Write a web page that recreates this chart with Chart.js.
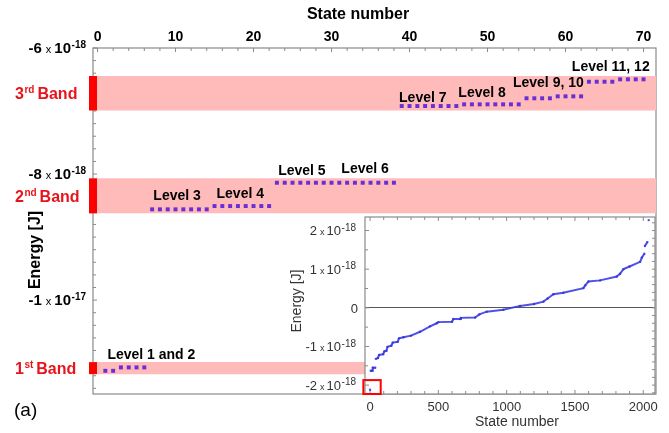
<!DOCTYPE html>
<html><head><meta charset="utf-8">
<script src="https://cdn.jsdelivr.net/npm/chart.js@4.4.1/dist/chart.umd.min.js"></script>
<style>
html,body{margin:0;padding:0;background:#fff;}
#wrap{position:relative;width:669px;height:433px;overflow:hidden;}
#main{position:absolute;left:0;top:0;}
#inset{position:absolute;left:280px;top:213px;}
</style></head><body>
<div id="wrap">
<canvas id="main" width="669" height="433"></canvas>
<canvas id="inset" width="389" height="220"></canvas>
</div>
<script>
// ---------------- main chart data ----------------
const xMin = -0.58, xMax = 71.6;
const yMin = -1.149e-17, yMax = -6.0e-18;
const mainXTicks = [0, 10, 20, 30, 40, 50, 60, 70];
const mainYTicks = [-6e-18, -8e-18, -1e-17];
const mainYTickMantissa = ['-6', '-8', '-1'];
const mainYTickExponent = ['-18', '-18', '-17'];

const bandNumber = ['1', '2', '3'];
const bandSuffix = ['st', 'nd', 'rd'];
const bandLow  = [-11.175e-18, -8.624e-18, -6.992e-18];
const bandHigh = [-10.984e-18, -8.068e-18, -6.444e-18];

const stateNumber = [1,2,3,4,5,6,7,8,9,10,11,12,13,14,15,16,17,18,19,20,
  21,22,23,24,25,26,27,28,29,30,31,32,33,34,35,36,37,38,39,40,
  41,42,43,44,45,46,47,48,49,50,51,52,53,54,55,56,57,58,59,60,
  61,62,63,64,65,66,67,68,69,70];
const stateEnergy = [
  -11.122e-18, -11.122e-18,
  -11.068e-18, -11.068e-18, -11.068e-18, -11.068e-18,
  -8.56e-18, -8.56e-18, -8.56e-18, -8.56e-18, -8.56e-18, -8.56e-18, -8.56e-18, -8.56e-18,
  -8.508e-18, -8.508e-18, -8.508e-18, -8.508e-18, -8.508e-18, -8.508e-18, -8.508e-18, -8.508e-18,
  -8.138e-18, -8.138e-18, -8.138e-18, -8.138e-18, -8.138e-18, -8.138e-18, -8.138e-18, -8.138e-18,
  -8.138e-18, -8.138e-18, -8.138e-18, -8.138e-18, -8.138e-18, -8.138e-18, -8.138e-18, -8.138e-18,
  -6.921e-18, -6.921e-18, -6.921e-18, -6.921e-18, -6.921e-18, -6.921e-18, -6.921e-18, -6.921e-18,
  -6.894e-18, -6.894e-18, -6.894e-18, -6.894e-18, -6.894e-18, -6.894e-18, -6.894e-18, -6.894e-18,
  -6.798e-18, -6.798e-18, -6.798e-18, -6.798e-18,
  -6.767e-18, -6.767e-18, -6.767e-18, -6.767e-18,
  -6.535e-18, -6.535e-18, -6.535e-18, -6.535e-18,
  -6.497e-18, -6.497e-18, -6.497e-18, -6.497e-18];

const levelNames = ['Level 1 and 2', 'Level 3', 'Level 4', 'Level 5', 'Level 6',
  'Level 7', 'Level 8', 'Level 9, 10', 'Level 11, 12'];
const levelLabelState  = [6.9, 10.2, 18.3, 26.2, 34.3, 41.7, 49.3, 57.8, 65.8];
const levelLabelEnergy = [-10.857e-18, -8.333e-18, -8.302e-18, -7.929e-18, -7.905e-18,
  -6.778e-18, -6.698e-18, -6.54e-18, -6.286e-18];

// ---------------- inset data ----------------
const insetXMin = -37, insetXMax = 2086;
const insetYMin = -2.23e-18, insetYMax = 2.35e-18;
const insetXTicks = [0, 500, 1000, 1500, 2000];
const insetYTicks = [2e-18, 1e-18, 0, -1e-18, -2e-18];
const insetYTickMantissa = ['2', '1', '0', '-1', '-2'];
const insetYTickExponent = ['-18', '-18', '', '-18', '-18'];
const insetStates = [0, 5, 15, 20, 38, 42, 58, 66, 96, 104, 120, 128, 156, 166, 202,
  212, 244, 300, 366, 439, 488, 500, 600, 610, 659, 665, 769, 800, 854, 976,
  1098, 1200, 1269, 1300, 1342, 1415, 1562, 1575, 1599, 1684, 1806, 1830, 1855, 1900, 1977,
  1990, 2008, 2012, 2030, 2040];
const insetEnergy = [-2.12e-18, -1.63e-18, -1.63e-18, -1.55e-18, -1.55e-18, -1.32e-18, -1.30e-18,
  -1.22e-18, -1.20e-18, -1.13e-18, -1.11e-18, -1.01e-18, -0.98e-18, -0.90e-18, -0.88e-18,
  -0.79e-18, -0.76e-18, -0.72e-18, -0.62e-18, -0.48e-18, -0.40e-18, -0.37e-18, -0.36e-18,
  -0.29e-18, -0.29e-18, -0.26e-18, -0.25e-18, -0.17e-18, -0.10e-18, -0.05e-18,
  0.05e-18, 0.10e-18, 0.16e-18, 0.24e-18, 0.35e-18, 0.39e-18, 0.51e-18, 0.58e-18, 0.68e-18,
  0.71e-18, 0.81e-18, 0.88e-18, 1.0e-18, 1.07e-18, 1.19e-18, 1.30e-18, 1.40e-18, 1.60e-18,
  1.70e-18, 2.27e-18];
const highlightBox = { xMin: -49, xMax: 78, yMin: -2.23e-18, yMax: -1.87e-18 };

// ---------------- styling ----------------
const F = "'Liberation Sans', Arial, sans-serif";
const AXIS = '#8a8a8a';
const RED_TEXT = '#e8141c';

function drawParts(ctx, parts, x, baseline, align, color) {
  const widths = parts.map(p => { ctx.font = p.f; return ctx.measureText(p.t).width; });
  let total = 0;
  parts.forEach((p, i) => { total += widths[i] + (p.g || 0); });
  let cx = align === 'right' ? x - total : (align === 'center' ? x - total / 2 : x);
  ctx.fillStyle = color; ctx.textAlign = 'left'; ctx.textBaseline = 'alphabetic';
  parts.forEach((p, i) => {
    ctx.font = p.f;
    ctx.fillText(p.t, cx, baseline + (p.dy || 0));
    cx += widths[i] + (p.g || 0);
  });
}
function tick(ctx, x1, y1, x2, y2) { ctx.beginPath(); ctx.moveTo(x1, y1); ctx.lineTo(x2, y2); ctx.stroke(); }

const mainDecor = {
  id: 'mainDecor',
  beforeDatasetsDraw(chart) {
    const { ctx, chartArea: a, scales: { x, y } } = chart;
    ctx.save();
    ctx.strokeStyle = AXIS; ctx.lineWidth = 1.2;
    ctx.strokeRect(a.left, a.top, a.right - a.left, a.bottom - a.top);
    ctx.lineWidth = 1;
    for (let v = 0; v <= 70; v += 2) {
      const px = x.getPixelForValue(v);
      tick(ctx, px, a.top, px, a.top + (v % 10 === 0 ? 4 : 3));
    }
    for (let k = 0; k < 40; k++) {
      const v = yMax - k * 0.2e-18;
      if (v < yMin) break;
      const py = y.getPixelForValue(v);
      tick(ctx, a.left, py, a.left + (k % 10 === 0 ? 4 : 3), py);
    }
    ctx.restore();
  },
  afterDraw(chart) {
    const { ctx, scales: { x, y } } = chart;
    ctx.save();
    mainYTicks.forEach((v, i) => {
      const py = y.getPixelForValue(v);
      drawParts(ctx, [
        { t: mainYTickMantissa[i], f: `bold 15px ${F}`, g: 4 },
        { t: 'x', f: `11px ${F}`, g: 3 },
        { t: '10', f: `bold 15px ${F}`, g: 0.5 },
        { t: mainYTickExponent[i], f: `bold 10px ${F}`, dy: -5 }
      ], 86, py + 5.3, 'right', '#000');
    });
    bandLow.forEach((lo, i) => {
      const py = (y.getPixelForValue(lo) + y.getPixelForValue(bandHigh[i])) / 2;
      drawParts(ctx, [
        { t: bandNumber[i], f: `bold 16px ${F}`, g: 0.5 },
        { t: bandSuffix[i], f: `bold 10px ${F}`, dy: -6, g: 3 },
        { t: 'Band', f: `bold 16px ${F}` }
      ], 15, py + 5.8, 'left', RED_TEXT);
    });
    ctx.font = `bold 14px ${F}`; ctx.fillStyle = '#000';
    ctx.textAlign = 'center'; ctx.textBaseline = 'alphabetic';
    levelNames.forEach((n, i) => {
      ctx.fillText(n, x.getPixelForValue(levelLabelState[i]), y.getPixelForValue(levelLabelEnergy[i]) + 5);
    });
    ctx.font = `bold 16px ${F}`; ctx.textAlign = 'center'; ctx.textBaseline = 'alphabetic';
    ctx.fillText('State number', 358, 18.5);
    ctx.save();
    ctx.translate(36, 250); ctx.rotate(-Math.PI / 2);
    ctx.textBaseline = 'middle';
    ctx.fillText('Energy [J]', 0, 0);
    ctx.restore();
    ctx.font = `19px ${F}`; ctx.textAlign = 'left'; ctx.textBaseline = 'middle';
    ctx.fillText('(a)', 14, 411);
    ctx.restore();
  }
};

const mainDatasets = [];
mainDatasets.push({
  type: 'scatter', label: 'states',
  data: stateNumber.map((s, i) => ({ x: s, y: stateEnergy[i] })),
  pointStyle: 'rect', pointRadius: 2.8, pointBorderWidth: 0,
  backgroundColor: '#6a2ed6', borderColor: '#6a2ed6', showLine: false, order: 0
});
bandLow.forEach((lo, i) => mainDatasets.push({
  type: 'line', label: 'marker' + i,
  data: [{ x: xMin, y: lo }, { x: xMin, y: bandHigh[i] }],
  borderColor: '#ff0000', borderWidth: 8, borderCapStyle: 'butt', pointRadius: 0, clip: false, order: 1
}));
bandLow.forEach((lo, i) => mainDatasets.push({
  type: 'line', label: 'band' + i,
  data: [{ x: xMin, y: bandHigh[i] }, { x: xMax, y: bandHigh[i] }],
  borderColor: 'rgba(0,0,0,0)', borderWidth: 0, pointRadius: 0,
  fill: { value: lo }, backgroundColor: '#ffbaba', order: 2
}));

new Chart(document.getElementById('main'), {
  type: 'line',
  data: { datasets: mainDatasets },
  options: {
    responsive: false, animation: false, events: [],
    layout: { padding: { left: 0, right: 13, top: 0, bottom: 39 } },
    plugins: { legend: { display: false }, tooltip: { enabled: false } },
    scales: {
      x: {
        type: 'linear', position: 'top', min: xMin, max: xMax,
        afterBuildTicks: s => { s.ticks = mainXTicks.map(v => ({ value: v })); },
        afterFit: s => { s.height = 48; },
        grid: { display: false, drawTicks: false }, border: { display: false },
        ticks: { font: { family: F, size: 14, weight: 'bold' }, color: '#000', padding: 2, maxRotation: 0, autoSkip: false,
          callback: v => String(v) }
      },
      y: {
        type: 'linear', min: yMin, max: yMax,
        afterBuildTicks: s => { s.ticks = mainYTicks.map(v => ({ value: v })); },
        afterFit: s => { s.width = 93; },
        grid: { display: false }, border: { display: false },
        ticks: { display: false }
      }
    }
  },
  plugins: [mainDecor]
});

// ---------------- inset ----------------
const insetDecor = {
  id: 'insetDecor',
  beforeDraw(chart) {
    const { ctx, chartArea: a } = chart;
    ctx.save(); ctx.fillStyle = '#fff';
    ctx.fillRect(a.left, a.top, a.right - a.left, a.bottom - a.top);
    ctx.restore();
  },
  beforeDatasetsDraw(chart) {
    const { ctx, chartArea: a, scales: { x, y } } = chart;
    ctx.save();
    ctx.strokeStyle = AXIS; ctx.lineWidth = 1.2;
    ctx.strokeRect(a.left, a.top, a.right - a.left, a.bottom - a.top);
    ctx.lineWidth = 1;
    for (let v = 0; v <= insetXMax; v += 100) {
      const px = x.getPixelForValue(v);
      const len = v % 500 === 0 ? 4 : 3;
      tick(ctx, px, a.bottom, px, a.bottom - len);
      tick(ctx, px, a.top, px, a.top + len);
    }
    for (let k = -12; k <= 12; k++) {
      const v = k * 0.2e-18;
      if (v < insetYMin || v > insetYMax) continue;
      const py = y.getPixelForValue(v);
      tick(ctx, a.right, py, a.right - 3, py);
    }
    for (let k = -5; k <= 5; k++) {
      const v = k * 0.5e-18;
      if (v < insetYMin || v > insetYMax) continue;
      const py = y.getPixelForValue(v);
      tick(ctx, a.left, py, a.left + (k % 2 === 0 ? 4 : 3), py);
    }
    ctx.restore();
  },
  afterDraw(chart) {
    const { ctx, scales: { x, y } } = chart;
    ctx.save();
    insetYTicks.forEach((v, i) => {
      const py = y.getPixelForValue(v);
      if (insetYTickExponent[i] === '') {
        drawParts(ctx, [{ t: insetYTickMantissa[i], f: `13px ${F}` }], 78, py + 4.7, 'right', '#333');
      } else {
        drawParts(ctx, [
          { t: insetYTickMantissa[i], f: `13px ${F}`, g: 3 },
          { t: 'x', f: `9px ${F}`, g: 2 },
          { t: '10', f: `13px ${F}`, g: 0.5 },
          { t: insetYTickExponent[i], f: `10px ${F}`, dy: -4.5 }
        ], 76, py + 4.7, 'right', '#333');
      }
    });
    ctx.fillStyle = '#333'; ctx.font = `14px ${F}`;
    ctx.textAlign = 'center'; ctx.textBaseline = 'middle';
    ctx.fillText('State number', 237, 209);
    ctx.save();
    ctx.translate(17, 88); ctx.rotate(-Math.PI / 2);
    ctx.fillText('Energy [J]', 0, 0);
    ctx.restore();
    const bx1 = x.getPixelForValue(highlightBox.xMin), bx2 = x.getPixelForValue(highlightBox.xMax);
    const by1 = y.getPixelForValue(highlightBox.yMax), by2 = y.getPixelForValue(highlightBox.yMin);
    ctx.strokeStyle = '#ff0000'; ctx.lineWidth = 2;
    ctx.strokeRect(bx1, by1, bx2 - bx1, by2 - by1);
    ctx.restore();
  }
};

new Chart(document.getElementById('inset'), {
  type: 'line',
  data: {
    datasets: [{
      label: 'all states',
      data: insetStates.map((s, i) => ({ x: s, y: insetEnergy[i] })),
      borderColor: 'rgba(50,50,225,0.85)', backgroundColor: 'rgba(50,50,225,0.85)',
      borderWidth: 2, pointRadius: 1.2, pointBorderWidth: 0, tension: 0,
      segment: { borderColor: c => (c.p1.parsed.y - c.p0.parsed.y) > 0.17e-18 ? 'rgba(0,0,0,0)' : undefined }
    }]
  },
  options: {
    responsive: false, animation: false, events: [],
    layout: { padding: { left: 0, right: 14, top: 0, bottom: 0 } },
    plugins: { legend: { display: false }, tooltip: { enabled: false } },
    scales: {
      x: {
        type: 'linear', min: insetXMin, max: insetXMax,
        afterBuildTicks: s => { s.ticks = insetXTicks.map(v => ({ value: v })); },
        afterFit: s => { s.height = 39; },
        grid: { display: false, drawTicks: false }, border: { display: false },
        ticks: { font: { family: F, size: 13 }, color: '#333', padding: 6, maxRotation: 0, autoSkip: false,
          callback: v => String(v) }
      },
      y: {
        type: 'linear', min: insetYMin, max: insetYMax,
        afterBuildTicks: s => { s.ticks = insetYTicks.map(v => ({ value: v })); },
        afterFit: s => { s.width = 85; },
        grid: { drawTicks: false, lineWidth: 1, color: c => (c.tick && c.tick.value === 0) ? '#555' : 'rgba(0,0,0,0)' },
        border: { display: false },
        ticks: { display: false }
      }
    }
  },
  plugins: [insetDecor]
});
</script>
</body></html>
